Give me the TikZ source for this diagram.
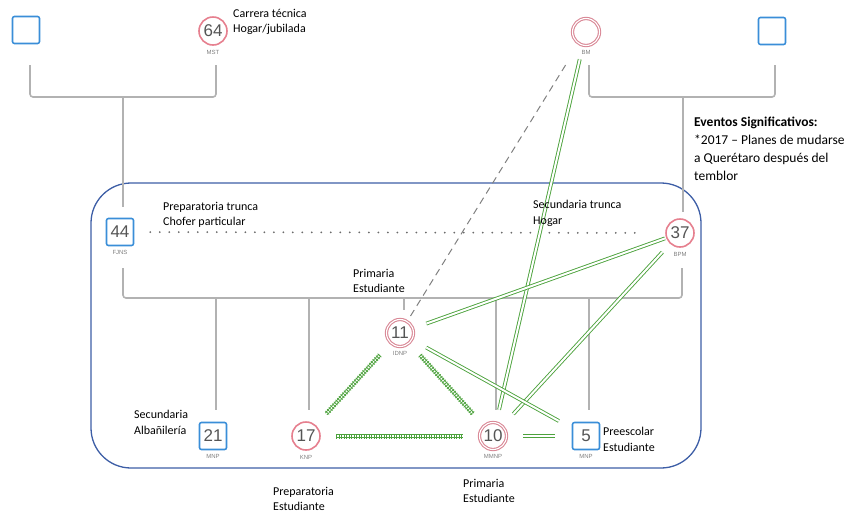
\documentclass[tikz,border=0pt]{standalone}
\usepackage{fontspec}
\setmainfont{Carlito}
\newfontfamily\numfont{Liberation Sans}
\usepackage{tikz}
\usetikzlibrary{positioning}

\definecolor{sqblue}{HTML}{3A8ED8}
\definecolor{cirpink}{HTML}{E6808F}
\definecolor{dblpink}{HTML}{D98896}
\definecolor{boxblue}{HTML}{3D5EA6}
\definecolor{famgrey}{HTML}{B2B2B2}
\definecolor{relgreen}{HTML}{4CA23C}
\definecolor{numgrey}{HTML}{555555}

\begin{document}
\begin{tikzpicture}[x=1pt,y=-1pt,
	male/.style={draw=sqblue, line width=1.6pt, rounded corners=2pt,
		minimum size=27pt, inner sep=0pt, fill=white,
		font=\numfont\fontsize{17}{17}\selectfont, text=numgrey},
	female/.style={circle, draw=cirpink, line width=1.6pt,
		minimum size=28pt, inner sep=0pt, fill=white,
		font=\numfont\fontsize{17}{17}\selectfont, text=numgrey},
	ring/.style={circle, draw=dblpink, double=white, line width=1.1pt,
		double distance=1.1pt, minimum size=27pt, inner sep=0pt,
		font=\numfont\fontsize{17}{17}\selectfont, text=numgrey},
	tag/.style={font=\numfont\fontsize{6}{6}\selectfont, text=gray,
		inner sep=0pt},
	note/.style={anchor=north west, align=left, inner sep=0pt,
		font=\fontsize{12}{15.5}\selectfont},
	famline/.style={draw=famgrey, line width=1.6pt, rounded corners=3pt},
	bond/.style={draw=relgreen, double=white, line width=0.9pt,
		double distance=2pt},
	hatch/.style={draw=relgreen, line width=5pt,
		dash pattern=on 0.8pt off 1.7pt},
	hatchbase/.style={draw=relgreen, double=white, line width=0.8pt,
		double distance=1.6pt}
]
	\useasboundingbox (0,0) rectangle (867,523);

	% household frame
	\draw[boxblue, line width=1.3pt, rounded corners=40pt]
		(91,183) rectangle (701,468);

	% grandparents
	\node[male] (gfa) at (26,30) {};
	\node[female, label={[tag, yshift=-4pt]below:MST}] (mst) at (213,31) {64};
	\node[ring, label={[tag, yshift=-4pt]below:BM}] (bm) at (586,32) {};
	\node[male] (gfb) at (772,31) {};

	% parents
	\node[male, label={[tag, yshift=-4pt]below:FJNS}] (fjns) at (120,232) {44};
	\node[female, label={[tag, yshift=-4pt]below:BPM}] (bpm) at (680,233) {37};

	% children
	\node[ring, label={[tag, yshift=-4pt]below:IDNP}] (idnp) at (400,333) {11};
	\node[male, label={[tag, yshift=-4pt]below:MNP}] (mnpa) at (213,436) {21};
	\node[female, label={[tag, yshift=-4pt]below:KNP}] (knp) at (306,436) {17};
	\node[ring, label={[tag, yshift=-4pt]below:MMNP}] (mmnp) at (493,436) {10};
	\node[male, label={[tag, yshift=-4pt]below:MNP}] (mnpb) at (586,436) {5};

	% family lines
	\draw[famline] (30,65) -- (30,97) -- (216,97) -- (216,65);
	\draw[famline] (123,97) -- (123,207);
	\draw[famline] (589,65) -- (589,97) -- (775,97) -- (775,65);
	\draw[famline] (683,97) -- (683,212);
	\draw[famline] (123,268) -- (123,298) -- (682,298) -- (682,268);
	\foreach \x/\y in {216/410, 309/410, 404/310, 496/410, 589/410}
		\draw[famline] (\x,298) -- (\x,\y);

	% relations
	\draw[famgrey!60!black, line cap=round,
		dash pattern=on 0pt off 9.5pt, line width=2pt,
		shorten <=16pt, shorten >=22pt] (fjns) -- (bpm);
	\draw[gray, line width=1pt, dash pattern=on 7pt off 5pt,
		shorten <=20pt, shorten >=34pt] (idnp.center) -- (bm.center);

	\draw[bond, shorten <=28pt, shorten >=27pt] (bm.center) -- (mmnp.center);
	\draw[bond, shorten <=16pt, shorten >=28pt] (bpm.center) -- (idnp.center);
	\draw[bond, shorten <=26pt, shorten >=30pt] (bpm.center) -- (mmnp.center);
	\draw[bond, shorten <=30pt, shorten >=31pt] (idnp.center) -- (mnpb.center);
	\draw[bond, shorten <=30pt, shorten >=31pt] (mmnp.center) -- (mnpb.center);

	\foreach \a/\b in {idnp/knp, idnp/mmnp, knp/mmnp} {
		\draw[hatchbase, shorten <=30pt, shorten >=30pt] (\a.center) -- (\b.center);
		\draw[hatch, shorten <=30pt, shorten >=30pt] (\a.center) -- (\b.center);
	}

	% notes
	\node[note] (n64) at (233,9) {Carrera técnica\\Hogar/jubilada};
	\node[note] (n44) at (163,202) {Preparatoria trunca\\Chofer particular};
	\node[note] (n37) at (533,200) {Secundaria trunca\\Hogar};
	\node[note] (n11) at (353,269) {Primaria\\Estudiante};
	\node[note] (n21) at (134,410) {Secundaria\\Albañilería};
	\node[note] (n17) at (273,487) {Preparatoria\\Estudiante};
	\node[note] (n10) at (463,479) {Primaria\\Estudiante};
	\node[note] (n5) at (603,427) {Preescolar\\Estudiante};
	\node[note, font=\fontsize{13.5}{18}\selectfont] (events) at (694,117)
		{\textbf{Eventos Significativos:}\\*2017 – Planes de mudarse\\a Querétaro después del\\temblor};
\end{tikzpicture}
\end{document}
